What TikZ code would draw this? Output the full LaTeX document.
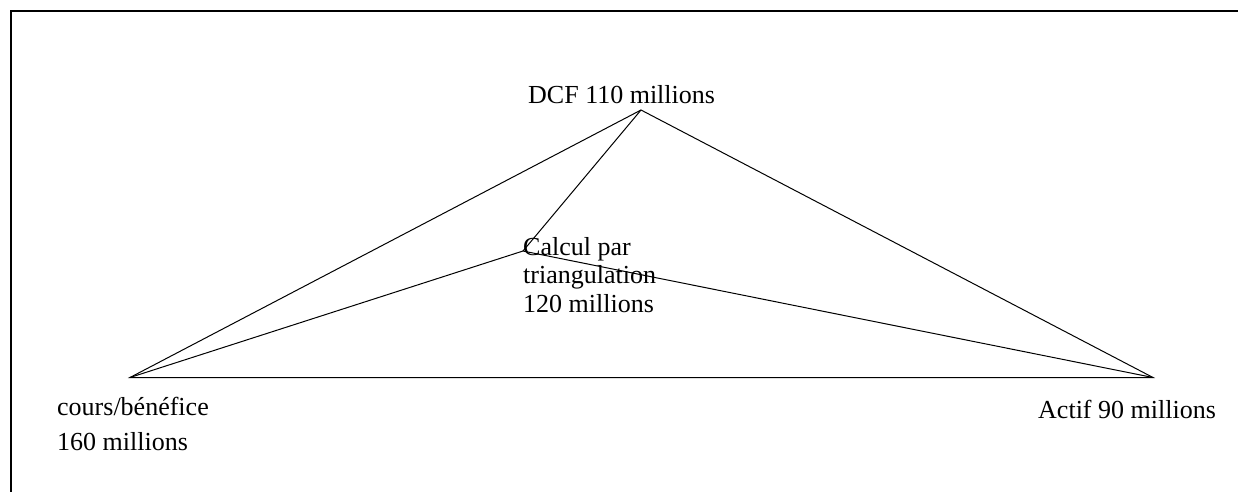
\documentclass[tikz,border=0pt]{standalone}
\usepackage{fontspec}
\setmainfont{Liberation Serif}
\begin{document}
\begin{tikzpicture}[x=1pt,y=-1pt,
  lbl/.style={inner sep=0pt,anchor=base west,align=left,font=\fontsize{26}{28.5}\selectfont},
  edge/.style={draw=black,line width=1pt},
  frame/.style={draw=black,line width=2pt}]
\useasboundingbox (0,0) rectangle (1238,491);
\draw[frame] (11,495) -- (11,11) -- (1242,11);
\coordinate (A) at (641,110);
\coordinate (B) at (130,377.5);
\coordinate (C) at (1153,377.5);
\coordinate (D) at (523,251);
\draw[edge] (A) -- (B) -- (C) -- cycle;
\draw[edge] (A) -- (D);
\draw[edge] (B) -- (D) -- (C);
\node[lbl] (dcf) at (528,103) {DCF 110 millions};
\node[lbl] (tri) at (523,312) {Calcul par\\triangulation\\120 millions};
\node[lbl,font=\fontsize{26}{35}\selectfont] (pe) at (57,450) {cours/bénéfice\\160 millions};
\node[lbl] (act) at (1038,418) {Actif 90 millions};
\end{tikzpicture}
\end{document}
